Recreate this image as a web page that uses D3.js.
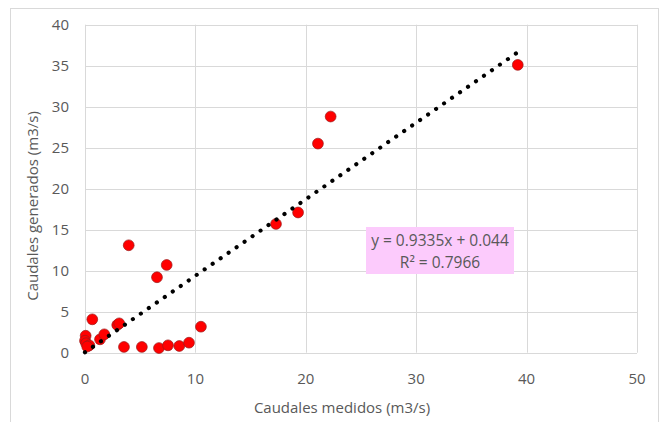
<!DOCTYPE html>
<html>
<head>
  <meta charset="utf-8" />
  <title>Caudales medidos vs generados</title>
  <script src="https://cdn.jsdelivr.net/npm/d3@7"></script>
  <style>
    body { margin: 0; background: #fff; }
    text { font-family: "Open Sans", "Noto Sans", sans-serif; fill: #595959; }
  </style>
</head>
<body>
  <div id="chart"></div>

  <script>
    // data
    var medidos  = [0.06, 0.0, 0.1, 0.39, 0.2, 0.66, 1.36, 1.75, 2.92, 3.1, 3.53, 3.96, 5.15, 6.52, 6.7, 7.4, 7.52, 8.54, 9.42, 10.5, 17.3, 19.3, 21.1, 22.25, 39.2];
    var generados = [2.07, 1.46, 1.15, 0.9, 0.75, 4.07, 1.63, 2.24, 3.38, 3.58, 0.7, 13.1, 0.7, 9.2, 0.57, 10.7, 0.9, 0.82, 1.22, 3.17, 15.7, 17.1, 25.5, 28.8, 35.1];
    var xTicks = [0, 10, 20, 30, 40, 50];
    var yTicks = [0, 5, 10, 15, 20, 25, 30, 35, 40];
    var slope = 0.9335, intercept = 0.044;
    var eqLabel = "y = 0.9335x + 0.044";
    var r2Label = "R² = 0.7966";

    var width = 661, height = 422;

    var svg = d3.select("#chart")
      .append("svg")
      .attr("width", width)
      .attr("height", height);

    // outer chart frame
    svg.append("rect")
      .attr("x", 10.5).attr("y", 8.5)
      .attr("width", 648).attr("height", 420)
      .attr("fill", "none")
      .attr("stroke", "#d9d9d9");

    var x = d3.scaleLinear().domain([0, 50]).range([85, 637]);
    var y = d3.scaleLinear().domain([0, 40]).range([352.7, 24.7]);

    // gridlines
    svg.append("g").selectAll("line")
      .data(yTicks).enter().append("line")
      .attr("x1", x(0)).attr("x2", x(50))
      .attr("y1", d => Math.round(y(d)) + 0.5)
      .attr("y2", d => Math.round(y(d)) + 0.5)
      .attr("stroke", "#d9d9d9");

    svg.append("g").selectAll("line")
      .data(xTicks).enter().append("line")
      .attr("y1", y(0)).attr("y2", y(40))
      .attr("x1", d => Math.round(x(d)) + 0.5)
      .attr("x2", d => Math.round(x(d)) + 0.5)
      .attr("stroke", "#d9d9d9");

    // tick labels
    svg.append("g").selectAll("text")
      .data(xTicks).enter().append("text")
      .attr("x", d => x(d))
      .attr("y", 384)
      .attr("text-anchor", "middle")
      .attr("font-size", 15)
      .text(d => d);

    svg.append("g").selectAll("text")
      .data(yTicks).enter().append("text")
      .attr("x", 69)
      .attr("y", d => y(d) + 5)
      .attr("text-anchor", "end")
      .attr("font-size", 15)
      .text(d => d);

    // axis titles
    svg.append("text")
      .attr("x", 342).attr("y", 413)
      .attr("text-anchor", "middle")
      .attr("font-size", 15)
      .text("Caudales medidos (m3/s)");

    svg.append("text")
      .attr("transform", "translate(38,206) rotate(-90)")
      .attr("text-anchor", "middle")
      .attr("font-size", 15)
      .text("Caudales generados (m3/s)");

    // points
    var pts = medidos.map((m, i) => ({ x: m, y: generados[i] }));

    svg.append("g").selectAll("circle")
      .data(pts).enter().append("circle")
      .attr("cx", d => x(d.x))
      .attr("cy", d => y(d.y))
      .attr("r", 5.4)
      .attr("fill", "#ff0000")
      .attr("stroke", "#9a1a1a")
      .attr("stroke-width", 0.7);

    // linear trendline, dotted
    var xMax = d3.max(medidos);
    svg.append("line")
      .attr("x1", x(0)).attr("y1", y(intercept))
      .attr("x2", x(xMax)).attr("y2", y(slope * xMax + intercept))
      .attr("stroke", "#000")
      .attr("stroke-width", 4.2)
      .attr("stroke-linecap", "round")
      .attr("stroke-dasharray", "0.01 9.7");

    // equation label
    svg.append("rect")
      .attr("x", 366).attr("y", 227)
      .attr("width", 148).attr("height", 47)
      .attr("fill", "#fccbfc");

    svg.append("text")
      .attr("x", 440).attr("y", 246)
      .attr("text-anchor", "middle")
      .attr("font-size", 15.5)
      .text(eqLabel);

    svg.append("text")
      .attr("x", 440).attr("y", 268)
      .attr("text-anchor", "middle")
      .attr("font-size", 15.5)
      .text(r2Label);
  </script>
</body>
</html>
